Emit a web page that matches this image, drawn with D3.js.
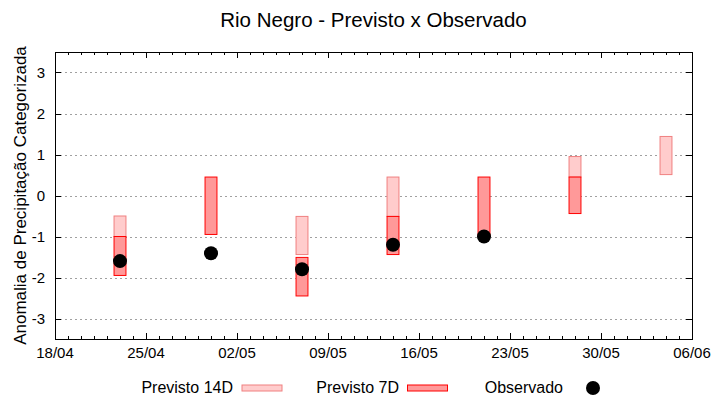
<!DOCTYPE html>
<html>
<head>
<meta charset="utf-8">
<script src="https://cdn.jsdelivr.net/npm/d3@7"></script>
<style>
  body { margin: 0; background: #fff; }
  svg { font-family: "Liberation Sans", Arial, sans-serif; }
</style>
</head>
<body>
<svg id="chart" width="720" height="400"></svg>
<script>
// data
const dates = ['2022-04-23', '2022-04-30', '2022-05-07', '2022-05-14', '2022-05-21', '2022-05-28', '2022-06-04'];
const prev14Low = [-1.0, null, -1.44, -0.51, null, 0.45, 0.51];
const prev14High = [-0.5, null, -0.51, 0.45, null, 0.95, 1.44];
const prev7Low = [-1.95, -0.95, -2.45, -1.44, -1.0, -0.44, null];
const prev7High = [-1.0, 0.45, -1.51, -0.51, 0.45, 0.45, null];
const observed = [-1.6, -1.41, -1.8, -1.2, -1.0, null, null];
const yTicks = [-3, -2, -1, 0, 1, 2, 3];
const xStart = '2022-04-18';
const xEnd = '2022-06-06';

const parse = d3.utcParse('%Y-%m-%d');
const rows = dates.map((d, i) => ({
  date: parse(d),
  lo14: prev14Low[i], hi14: prev14High[i],
  lo7: prev7Low[i], hi7: prev7High[i],
  obs: observed[i]
}));

const width = 720, height = 400;
const margin = { top: 52, right: 28, bottom: 61, left: 55 };
const svg = d3.select('#chart');

const x = d3.scaleUtc()
  .domain([parse(xStart), parse(xEnd)])
  .range([margin.left, width - margin.right]);
const y = d3.scaleLinear()
  .domain([-3.5, 3.5])
  .range([height - margin.bottom, margin.top]);

const endPlus = d3.utcDay.offset(parse(xEnd), 1);
const weekTicks = d3.utcDay.range(parse(xStart), endPlus, 7);
const dayTicks = d3.utcDay.range(parse(xStart), endPlus);

// grid
svg.append('g')
  .selectAll('line')
  .data(yTicks)
  .join('line')
  .attr('x1', margin.left).attr('x2', width - margin.right)
  .attr('y1', d => Math.round(y(d)) + 0.5).attr('y2', d => Math.round(y(d)) + 0.5)
  .attr('stroke', '#a0a0a0')
  .attr('stroke-width', 1)
  .attr('stroke-dasharray', '2,3');

// ticks (inward, on all four sides)
const tickG = svg.append('g').attr('stroke', '#000').attr('stroke-width', 1);
const yb = height - margin.bottom, yt = margin.top;
tickG.selectAll('.xminor')
  .data(dayTicks)
  .join('path')
  .attr('d', d => `M${Math.round(x(d)) + 0.5},${yb}v-3M${Math.round(x(d)) + 0.5},${yt}v3`);
tickG.selectAll('.xmajor')
  .data(weekTicks)
  .join('path')
  .attr('d', d => `M${Math.round(x(d)) + 0.5},${yb}v-6M${Math.round(x(d)) + 0.5},${yt}v6`);
tickG.selectAll('.ymajor')
  .data(yTicks)
  .join('path')
  .attr('d', d => `M${margin.left},${Math.round(y(d)) + 0.5}h6M${width - margin.right},${Math.round(y(d)) + 0.5}h-6`);

// x axis labels
const fmt = d3.utcFormat('%d/%m');
svg.append('g')
  .selectAll('text')
  .data(weekTicks)
  .join('text')
  .attr('x', d => x(d))
  .attr('y', yb + 19)
  .attr('text-anchor', 'middle')
  .attr('font-size', 15)
  .attr('fill', '#000')
  .text(d => fmt(d));

// y axis labels
svg.append('g')
  .selectAll('text')
  .data(yTicks)
  .join('text')
  .attr('x', margin.left - 10)
  .attr('y', d => y(d) + 5.5)
  .attr('text-anchor', 'end')
  .attr('font-size', 15)
  .attr('fill', '#000')
  .text(d => d);

// bars
const half = 11; // hours each side of the date
const barX = d => x(d3.utcHour.offset(d.date, -half));
const barW = d => x(d3.utcHour.offset(d.date, half)) - barX(d);

svg.append('g')
  .selectAll('rect')
  .data(rows.filter(d => d.lo14 !== null))
  .join('rect')
  .attr('x', barX)
  .attr('width', barW)
  .attr('y', d => y(d.hi14))
  .attr('height', d => y(d.lo14) - y(d.hi14))
  .attr('fill', '#ffcccc')
  .attr('stroke', '#f08080')
  .attr('stroke-width', 1);

svg.append('g')
  .selectAll('rect')
  .data(rows.filter(d => d.lo7 !== null))
  .join('rect')
  .attr('x', barX)
  .attr('width', barW)
  .attr('y', d => y(d.hi7))
  .attr('height', d => y(d.lo7) - y(d.hi7))
  .attr('fill', '#ff9999')
  .attr('stroke', '#ff0000')
  .attr('stroke-width', 1);

// observed points
svg.append('g')
  .selectAll('circle')
  .data(rows.filter(d => d.obs !== null))
  .join('circle')
  .attr('cx', d => x(d.date))
  .attr('cy', d => y(d.obs))
  .attr('r', 7)
  .attr('fill', '#000');

// border
svg.append('rect')
  .attr('x', margin.left + 0.5)
  .attr('y', margin.top + 0.5)
  .attr('width', width - margin.left - margin.right)
  .attr('height', height - margin.top - margin.bottom)
  .attr('fill', 'none')
  .attr('stroke', '#000');

// title
svg.append('text')
  .attr('x', (margin.left + width - margin.right) / 2)
  .attr('y', 27)
  .attr('text-anchor', 'middle')
  .attr('font-size', 20.5)
  .attr('fill', '#000')
  .text('Rio Negro - Previsto x Observado');

// y label
svg.append('text')
  .attr('transform', `translate(26,${(margin.top + height - margin.bottom) / 2}) rotate(-90)`)
  .attr('text-anchor', 'middle')
  .attr('font-size', 17)
  .attr('fill', '#000')
  .text('Anomalia de Precipitação Categorizada');

// legend
const legY = 388;
const legend = svg.append('g').attr('font-size', 16).attr('fill', '#000');
legend.append('text').attr('x', 233).attr('y', legY + 5).attr('text-anchor', 'end').text('Previsto 14D');
legend.append('rect').attr('x', 242).attr('y', legY - 3).attr('width', 40).attr('height', 6)
  .attr('fill', '#ffcccc').attr('stroke', '#f08080');
legend.append('text').attr('x', 399).attr('y', legY + 5).attr('text-anchor', 'end').text('Previsto 7D');
legend.append('rect').attr('x', 407.5).attr('y', legY - 3).attr('width', 40).attr('height', 6)
  .attr('fill', '#ff9999').attr('stroke', '#ff0000');
legend.append('text').attr('x', 563).attr('y', legY + 5).attr('text-anchor', 'end').text('Observado');
legend.append('circle').attr('cx', 593).attr('cy', legY).attr('r', 7).attr('fill', '#000');
</script>
</body>
</html>
